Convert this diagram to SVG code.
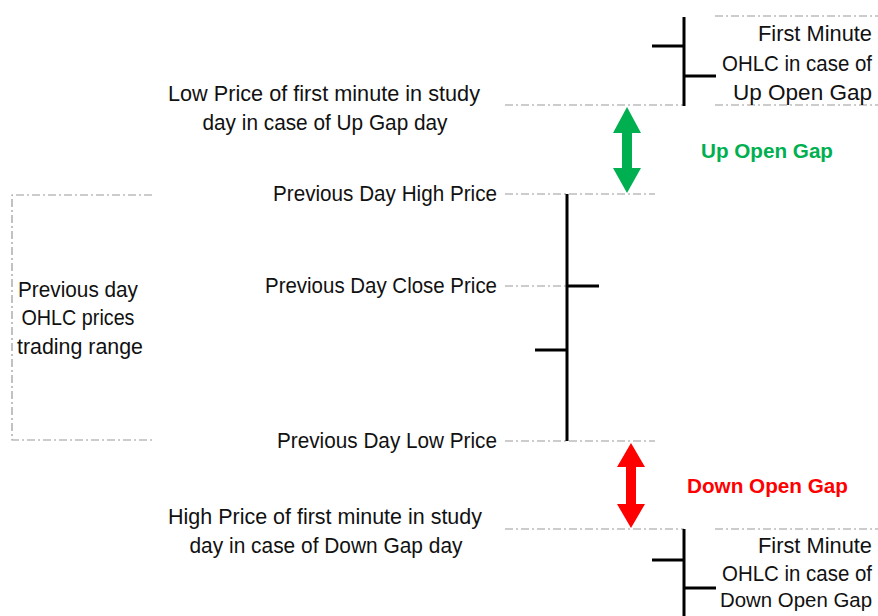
<svg xmlns="http://www.w3.org/2000/svg" width="878" height="616" viewBox="0 0 878 616">
<style>
.t{font-family:"Liberation Sans",Arial,sans-serif;font-size:21.5px;fill:#111}
.e{text-anchor:end}
.m{text-anchor:middle}
.g{font-family:"Liberation Sans",Arial,sans-serif;font-size:20px;font-weight:bold;fill:#00B050}
.r{font-family:"Liberation Sans",Arial,sans-serif;font-size:20px;font-weight:bold;fill:#FF0000}
.d{stroke:#999;stroke-width:1.2;stroke-dasharray:8 3 2 3;fill:none}
.b{stroke:#000;stroke-width:3;fill:none}
</style>
<rect width="878" height="616" fill="#fff"/>
<g id="connectors">
<path class="d" d="M715 16H878M505 105H684M715 105H878M505 194H655M505 286H567M505 441H655M505 529H684M715 529H878"/>
<path class="d" d="M152 195H12V440H152"/>
</g>
<g id="first-minute-up">
<path class="b" d="M684 17V106M652 46H684M684 76H716"/>
<text class="t e" x="872" y="41" textLength="114" lengthAdjust="spacingAndGlyphs">First Minute</text>
<text class="t e" x="872" y="71" textLength="150" lengthAdjust="spacingAndGlyphs">OHLC in case of</text>
<text class="t e" x="872" y="100" textLength="139" lengthAdjust="spacingAndGlyphs">Up Open Gap</text>
</g>
<g id="previous-day-bar">
<path class="b" d="M567 194V441M567 286H599M535 350H567"/>
</g>
<g id="label-low-first">
<text class="t m" x="324" y="101" textLength="312" lengthAdjust="spacingAndGlyphs">Low Price of first minute in study</text>
<text class="t m" x="325" y="130" textLength="245" lengthAdjust="spacingAndGlyphs">day in case of Up Gap day</text>
</g>
<g id="label-high"><text class="t e" x="497" y="201" textLength="224" lengthAdjust="spacingAndGlyphs">Previous Day High Price</text></g>
<g id="label-close"><text class="t e" x="497" y="293" textLength="232" lengthAdjust="spacingAndGlyphs">Previous Day Close Price</text></g>
<g id="label-low"><text class="t e" x="497" y="448" textLength="220" lengthAdjust="spacingAndGlyphs">Previous Day Low Price</text></g>
<g id="label-high-first">
<text class="t m" x="325" y="524" textLength="314" lengthAdjust="spacingAndGlyphs">High Price of first minute in study</text>
<text class="t m" x="326" y="553" textLength="273" lengthAdjust="spacingAndGlyphs">day in case of Down Gap day</text>
</g>
<g id="range-label">
<text class="t m" x="78" y="297" textLength="120" lengthAdjust="spacingAndGlyphs">Previous day</text>
<text class="t m" x="78" y="325" textLength="113" lengthAdjust="spacingAndGlyphs">OHLC prices</text>
<text class="t m" x="80" y="354" textLength="126" lengthAdjust="spacingAndGlyphs">trading range</text>
</g>
<g id="up-gap">
<polygon fill="#00B050" points="627,107 641,133 632,133 632,168 641,168 627,193 613,168 622,168 622,133 613,133"/>
<text class="g" x="701" y="158" textLength="132" lengthAdjust="spacingAndGlyphs">Up Open Gap</text>
</g>
<g id="down-gap">
<polygon fill="#FF0000" points="631,443 645,467 636,467 636,504 645,504 631,528 617,504 626,504 626,467 617,467"/>
<text class="r" x="687" y="493" textLength="161" lengthAdjust="spacingAndGlyphs">Down Open Gap</text>
</g>
<g id="first-minute-down">
<path class="b" d="M684 529V616M652 560H684M684 588H716"/>
<text class="t e" x="872" y="553" textLength="114" lengthAdjust="spacingAndGlyphs">First Minute</text>
<text class="t e" x="872" y="581" textLength="150" lengthAdjust="spacingAndGlyphs">OHLC in case of</text>
<text class="t e" x="872" y="607" textLength="152" lengthAdjust="spacingAndGlyphs" style="font-size:20.5px">Down Open Gap</text>
</g>
</svg>
